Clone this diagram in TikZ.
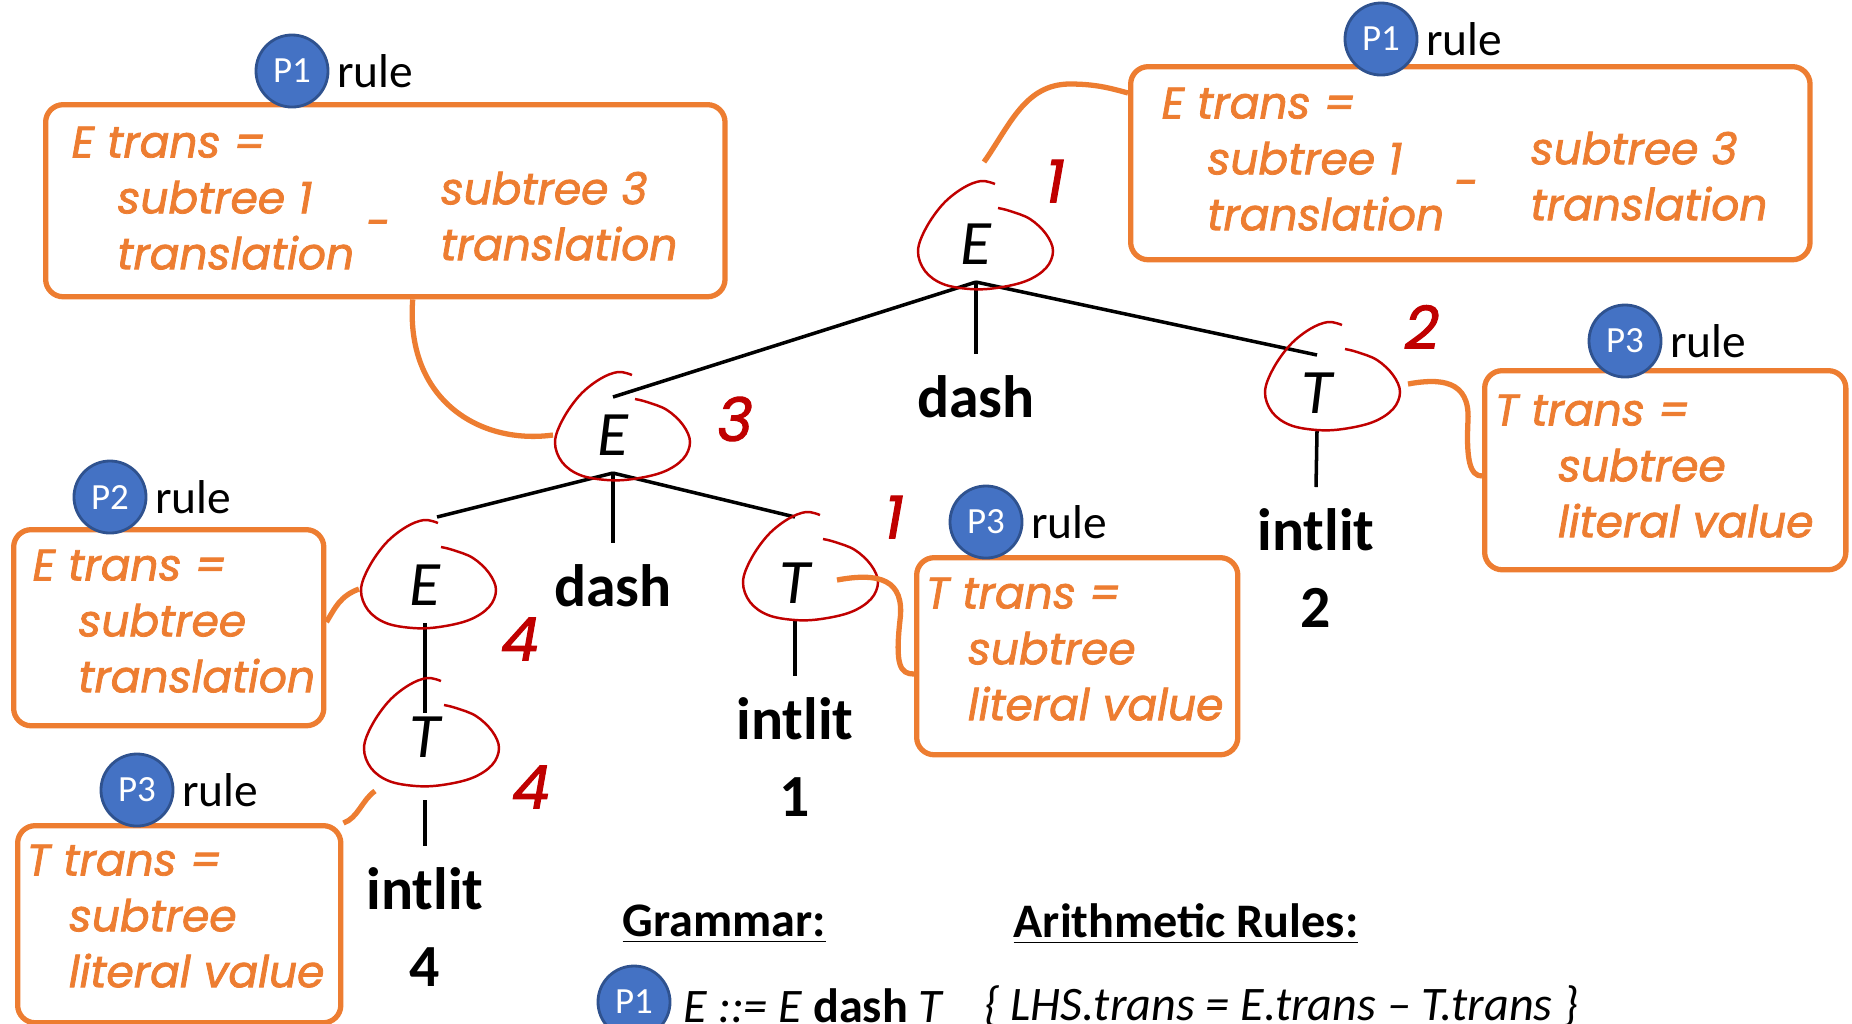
\documentclass[tikz,border=0pt]{standalone}
\usepackage{fontspec}
\setmainfont{Carlito}
\newfontfamily\handfont{Poppins}[FakeBold=1.8]
\usetikzlibrary{positioning, calc}
\definecolor{RuleOrange}{HTML}{ED7D31}
\definecolor{TreeRed}{HTML}{C00000}
\definecolor{BadgeBlue}{HTML}{4472C4}
\definecolor{BadgeEdge}{HTML}{2F528F}

% hand-drawn loop round a tree symbol
\tikzset{
  ring/.pic={\draw[TreeRed, line width=0.7pt] plot[smooth, tension=0.6] coordinates {(19,-60) (5,-63) (-13,-56) (-33,-40) (-50,-16) (-58,7) (-51,27) (-33,40) (-6,45) (20,44) (50,37) (70,24) (77,7) (70,-10) (54,-25) (34,-33) (22,-36)};}
}

\begin{document}
\begin{tikzpicture}[x=0.01cm, y=-0.01cm,
    nt/.style={font=\fontsize{18}{20}\selectfont\itshape, minimum width=1.2cm, minimum height=0.76cm, inner sep=0pt, outer sep=0pt},
    term/.style={font=\fontsize{17}{22}\selectfont\bfseries, align=center, inner sep=0pt, outer sep=6pt, anchor=north},
    edge/.style={line width=1pt},
    num/.style={TreeRed, font=\handfont\itshape\fontsize{17}{20}\selectfont},
    rulebox/.style={draw=RuleOrange, line width=1.5pt, rounded corners=5pt, anchor=north west, inner sep=0pt},
    hand/.style={RuleOrange, font=\handfont\itshape\fontsize{12.5}{15.9}\selectfont, align=left, anchor=north west, inner sep=0pt},
    link/.style={RuleOrange, line width=1.5pt},
    badge/.style={circle, fill=BadgeBlue, draw=BadgeEdge, line width=0.8pt, minimum size=0.72cm, inner sep=0pt, text=white, font=\fontsize{10.5}{12}\selectfont},
    tag/.style={font=\fontsize{13.5}{16}\selectfont, inner sep=1pt},
    head/.style={font=\fontsize{13.7}{16}\selectfont\bfseries, anchor=west, inner sep=0pt}]

  \useasboundingbox (0,0) rectangle (1852,1023);
  \clip (0,0) rectangle (1852,1023);

  % rule boxes
  \node[rulebox, minimum width=6.79cm, minimum height=1.92cm] (midEBox) at (43,102) {};
  \node[rulebox, minimum width=6.79cm, minimum height=1.93cm] (rootBox) at (1128,64) {};
  \node[rulebox, minimum width=3.61cm, minimum height=1.99cm] (rightTBox) at (1482,368) {};
  \node[rulebox, minimum width=3.21cm, minimum height=1.97cm] (midTBox) at (914,555) {};
  \node[rulebox, minimum width=3.10cm, minimum height=1.96cm] (leftEBox) at (11,527) {};
  \node[rulebox, minimum width=3.23cm, minimum height=1.97cm] (lowTBox) at (15,823) {};

  % rule texts
  \node[hand] (midEText) at (71,126) {E trans =\\\hspace*{13pt}subtree 1\\\hspace*{13pt}translation};
  \node[hand, anchor=center] (midEMinus) at (378,229) {-};
  \node[hand] (midEText2) at (440,171) {subtree 3\\translation};
  \node[hand] (rootText) at (1161,87) {E trans =\\\hspace*{13pt}subtree 1\\\hspace*{13pt}translation};
  \node[hand, anchor=center] (rootMinus) at (1466,189) {-};
  \node[hand] (rootText2) at (1530,131) {subtree 3\\translation};
  \node[hand] (rightTText) at (1494,394) {T trans =\\\hspace*{18pt}subtree\\\hspace*{18pt}literal value};
  \node[hand] (midTText) at (925,577) {T trans =\\\hspace*{12pt}subtree\\\hspace*{12pt}literal value};
  \node[hand] (leftEText) at (32,549) {E trans =\\\hspace*{13pt}subtree\\\hspace*{13pt}translation};
  \node[hand] (lowTText) at (26,844) {T trans =\\\hspace*{12pt}subtree\\\hspace*{12pt}literal value};

  % parse tree
  \node[nt] (rootE) at (976,244) {E};
  \node[nt] (midE) at (613,435) {E};
  \node[nt] (rightT) at (1317,393) {T};
  \node[nt] (leftE) at (425,585) {E};
  \node[nt] (midT) at (795,583) {T};
  \node[nt] (lowT) at (425,737) {T};
  \node[term] (rootDash) at (976,354) {dash};
  \node[term] (midDash) at (613,543) {dash};
  \node[term] (rightLit) at (1316,487) {intlit\\2};
  \node[term] (midLit) at (795,676) {intlit\\1};
  \node[term] (lowLit) at (425,846) {intlit\\4};

  \draw[edge] (rootE.south) -- (midE.north);
  \draw[edge] (rootE.south) -- (rootDash.north);
  \draw[edge] (rootE.south) -- (rightT.north);
  \draw[edge] (rightT.south) -- (rightLit.north);
  \draw[edge] (midE.south) -- ($(leftE.north)+(12,-30)$);
  \draw[edge] (midE.south) -- (midDash.north);
  \draw[edge] (midE.south) -- ($(midT.north)+(0,-28)$);
  \draw[edge] (midT.south) -- (midLit.north);
  \draw[edge] (leftE.south) -- ($(lowT.north)+(0,14)$);
  \draw[edge] ($(lowT.south)+(0,25)$) -- (lowLit.north);

  % loops and visit numbers
  \pic at (rootE.center) {ring};
  \pic at (midE.center) {ring};
  \pic at ($(rightT.center)+(6,-8)$) {ring};
  \pic at ($(leftE.center)+(-6,-2)$) {ring};
  \pic at ($(midT.center)+(6,-8)$) {ring};
  \pic at ($(lowT.center)+(-3,4)$) {ring};
  \node[num] (rootNum) at (1055,181) {1};
  \node[num] (rightTNum) at (1422,327) {2};
  \node[num] (midENum) at (735,419) {3};
  \node[num] (leftENum) at (520,639) {4};
  \node[num] (lowTNum) at (531,787) {4};
  \node[num] (midTNum) at (894,517) {1};

  % links from symbols to their rules
  \draw[link] ($(midEBox.south west)!0.54!(midEBox.south east)$) .. controls (405,400) and (480,445) .. (midE.west);
  \draw[link] ($(rootE.north)+(8,-44)$) .. controls (1010,125) and (1025,84) .. (1070,84) .. controls (1095,84) and (1110,88) .. ($(rootBox.north west)+(0,29)$);
  \draw[link] ($(rightT.center)+(91,-9)$) .. controls (1440,378) and (1470,380) .. (1468,420) .. controls (1466,460) and (1470,476) .. ($(rightTBox.north west)+(0,108)$);
  \draw[link] ($(midT.center)+(42,-3)$) .. controls (880,572) and (905,580) .. (900,620) .. controls (895,665) and (900,674) .. ($(midTBox.north west)+(0,119)$);
  \draw[link] ($(leftEBox.north east)+(0,95)$) .. controls (335,608) and (340,596) .. ($(leftE.west)+(-6,4)$);
  \draw[link] ($(lowT.center)+(-50,54)$) .. controls (362,800) and (358,818) .. (lowTBox.north east);

  % production badges
  \node[badge] (midEP) at (292,71) {P1};
  \node[tag, right=1pt of midEP] (midETag) {rule};
  \node[badge] (rootP) at (1381,39) {P1};
  \node[tag, right=1pt of rootP] (rootTag) {rule};
  \node[badge] (rightTP) at (1625,341) {P3};
  \node[tag, right=1pt of rightTP] (rightTTag) {rule};
  \node[badge] (midTP) at (986,522) {P3};
  \node[tag, right=1pt of midTP] (midTTag) {rule};
  \node[badge] (leftEP) at (110,497) {P2};
  \node[tag, right=1pt of leftEP] (leftETag) {rule};
  \node[badge] (lowTP) at (137,790) {P3};
  \node[tag, right=1pt of lowTP] (lowTTag) {rule};

  % grammar and rules
  \node[head] (gramHead) at (622,924) {\underline{Grammar:}};
  \node[head] (arithHead) at (1013,924) {\underline{Arithmetic Rules:}};
  \node[badge] (prodP) at (634,1002) {P1};
  \node[head, font=\fontsize{13.7}{16}\selectfont\itshape] (prod) at (683,1006) {E ::= E {\upshape\bfseries dash} T};
  \node[head, font=\fontsize{13.7}{16}\selectfont\itshape] (action) at (984,1006) {\{ LHS.trans = E.trans – T.trans \}};
\end{tikzpicture}
\end{document}
